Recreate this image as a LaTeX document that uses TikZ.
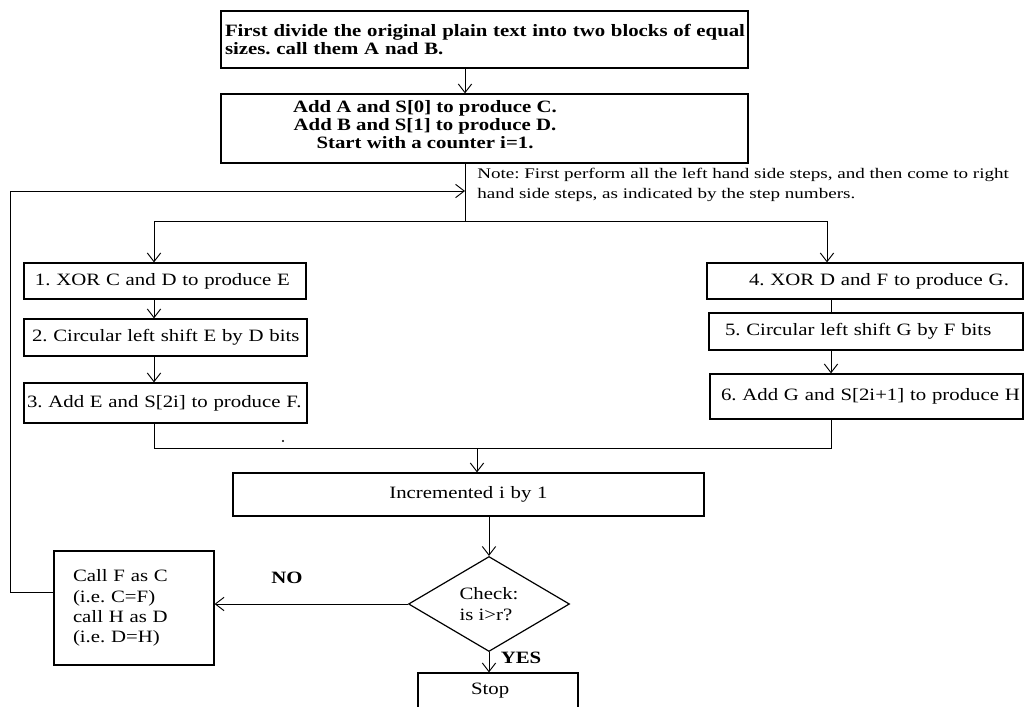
\documentclass[tikz,border=0pt]{standalone}
\usepackage{fontspec}
\setmainfont{Liberation Serif}[FakeStretch=1.2]
\newfontfamily\notefont{Liberation Serif}[FakeStretch=1.3]
\usetikzlibrary{arrows.meta,shapes.geometric}
\newcommand\ftmain{\frenchspacing\fontsize{13}{15.2}\selectfont}
\newcommand\ftbold{\frenchspacing\fontsize{13}{13.5}\selectfont\bfseries}
\newcommand\ftnote{\frenchspacing\notefont\fontsize{11}{15}\selectfont}
\newcommand\ftdia{\frenchspacing\fontsize{13}{15.75}\selectfont}
\begin{document}
\begin{tikzpicture}[x=0.75pt,y=-0.75pt,
  conn/.style={line width=0.7pt},
  arr/.style={conn,-{Straight Barb[length=6.5pt,width=10pt,line width=0.7pt]}},
  bx/.style n args={3}{draw,line width=0.9pt,minimum width=#1*0.75pt,minimum height=#2*0.75pt,
     inner xsep=#3*0.75pt,inner ysep=0pt,text width=(#1-2*#3)*0.75pt,align=left,font=\ftmain},
  dia/.style={draw,diamond,line width=0.9pt,minimum width=161*0.75pt,minimum height=95*0.75pt,
     inner sep=0pt,align=left,font=\ftdia},
  lab/.style={font=\ftbold,inner sep=0pt}
]
\useasboundingbox (0,0) rectangle (1026,707);
\clip (0,0) rectangle (1026,707);

% boxes
\node[bx={527}{57}{4},font=\ftbold] (tb) at (484.5,39.5)
  {\mbox{First divide the original plain text into two blocks of equal}\\\mbox{sizes. call them A nad B.}};
\node[bx={527}{69}{0}] (ib) at (484.5,128.5) {};
\node[font=\ftbold,align=center,inner sep=0pt] (ibt) at (425,125)
  {Add A and S[0] to produce C.\\Add B and S[1] to produce D.\\Start with a counter i=1.};
\node[font=\ftnote,align=left,anchor=west,inner sep=0pt] (note) at (477,185)
  {Note: First perform all the left hand side steps, and then come to right\\hand side steps, as indicated by the step numbers.};

\node[bx={282}{36}{11}] (b1) at (165,281) {\mbox{1. XOR C and D to produce E}};
\node[bx={283}{37}{8}] (b2) at (165.5,337.5) {\mbox{2. Circular left shift E by D bits}};
\node[bx={283}{40}{3}] (b3) at (165.5,403) {\mbox{3. Add E and S[2i] to produce F.}};
\node[bx={316}{36}{42}] (b4) at (865,281) {\mbox{4. XOR D and F to produce G.}};
\node[bx={314}{37}{16}] (b5) at (866,331.5) {\mbox{5. Circular left shift G by F bits}};
\node[bx={313}{45}{11}] (b6) at (866.5,396.5) {\mbox{6. Add G and S[2i+1] to produce H}};

\node[bx={471}{43}{0},align=center] (inc) at (468.5,494.5) {Incremented i by 1};
\node[bx={160}{114}{19}] (cf) at (134,608) {Call F as C\\(i.e. C=F)\\call H as D\\(i.e. D=H)};
\node[dia] (dm) at (489,604) {Check:\\is i>r?};
\node[bx={160}{36}{53}] (st) at (498,691) {Stop};
\node[lab] (no) at (287,578) {NO};
\node[lab] (yes) at (521,658) {YES};

% helper coordinates
\coordinate (xa) at (465,0);
\coordinate (sp) at (465,221);
\coordinate (li) at (465,191);
\coordinate (lt) at (10,191);
\coordinate (lb) at (10,592);
\coordinate (xl) at (154,0);
\coordinate (xr) at (827,0);
\coordinate (xr2) at (831,0);
\coordinate (mg) at (477,448);

% connectors
\draw[arr] (tb.south -| xa) -- (ib.north -| xa);
\draw[conn] (ib.south -| xa) -- (sp);
\draw[arr] (sp) -| (b1.north -| xl);
\draw[arr] (sp) -| (b4.north -| xr);
\draw[arr] (cf.west |- lb) -- (lb) -- (lt) -- (li);
\draw[arr] (b1.south -| xl) -- (b2.north -| xl);
\draw[arr] (b2.south -| xl) -- (b3.north -| xl);
\draw[conn] (b4.south -| xr2) -- (b5.north -| xr2);
\draw[arr] (b5.south -| xr2) -- (b6.north -| xr2);
\draw[conn] (b3.south -| xl) -- (xl |- mg) -- (xr2 |- mg) -- (b6.south -| xr2);
\draw[arr] (mg) -- (inc.north -| mg);
\draw[arr] (inc.south -| dm.north) -- (dm.north);
\draw[arr] (dm.west) -- (dm.west -| cf.east);
\draw[arr] (dm.south) -- (st.north -| dm.south);

% stray dot
\fill (283,441) circle (0.8pt);
\end{tikzpicture}
\end{document}
